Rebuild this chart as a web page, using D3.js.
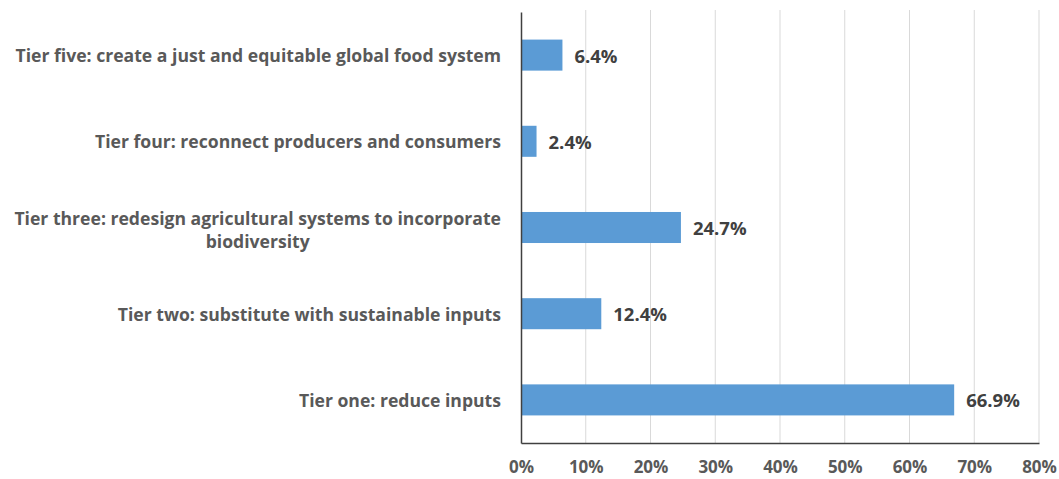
<!DOCTYPE html>
<html>
<head>
<meta charset="utf-8">
<script src="https://cdn.jsdelivr.net/npm/d3@7"></script>
<style>
  html, body { margin: 0; padding: 0; background: #fff; }
  svg { display: block; }
  text { font-family: "Open Sans", "Liberation Sans", sans-serif; }
</style>
</head>
<body>
<svg id="chart" width="1059" height="479"></svg>
<script>
const categories = [
  "Tier five: create a just and equitable global food system",
  "Tier four: reconnect producers and consumers",
  "Tier three: redesign agricultural systems to incorporate|biodiversity",
  "Tier two: substitute with sustainable inputs",
  "Tier one: reduce inputs"
];
const values = [6.4, 2.4, 24.7, 12.4, 66.9];
const tickValues = [0, 10, 20, 30, 40, 50, 60, 70, 80];

const margin = { left: 521, top: 12 };
const svg = d3.select("#chart");

const x = d3.scaleLinear().domain([0, 80]).range([margin.left, 1039]);
const y = d3.scaleBand().domain(categories).range([margin.top, 443])
  .paddingInner(0.64).paddingOuter(0.32);

// gridlines
svg.append("g").selectAll("line").data(tickValues.slice(1)).join("line")
  .attr("x1", d => x(d)).attr("x2", d => x(d))
  .attr("y1", margin.top - 2).attr("y2", 443)
  .attr("stroke", "#d9d9d9").attr("stroke-width", 1);

// bars
svg.append("g").selectAll("rect").data(values).join("rect")
  .attr("x", x(0))
  .attr("y", (d, i) => y(categories[i]))
  .attr("width", d => x(d) - x(0))
  .attr("height", y.bandwidth())
  .attr("fill", "#5b9bd5");

// x axis
const xAxis = d3.axisBottom(x).tickValues(tickValues).tickSize(0).tickPadding(18)
  .tickFormat(d => d + "%");
const gx = svg.append("g").attr("transform", `translate(0,443)`).call(xAxis);
gx.select(".domain").attr("stroke", "#404040").attr("stroke-width", 1.5);
gx.selectAll("text").attr("fill", "#595959").style("font-size", "17px")
  .style("font-weight", "700").style("font-family", '"Open Sans", sans-serif');

// y axis
const yAxis = d3.axisLeft(y).tickSize(0).tickPadding(20).tickFormat("");
const gy = svg.append("g").attr("transform", `translate(${x(0)},0)`).call(yAxis);
gy.select(".domain").attr("stroke", "#404040").attr("stroke-width", 1.5);

// category labels (wrapped on '|', second line centred under first, block right aligned)
const labG = svg.append("g");
const labSize = "17.6px";
categories.forEach((c, i) => {
  const lines = c.split("|");
  const cy = y(c) + y.bandwidth() / 2;
  const t = labG.append("text")
    .attr("fill", "#595959").style("font-size", labSize).style("font-weight", "700")
    .attr("dominant-baseline", "central");
  if (lines.length === 1) {
    t.attr("x", x(0) - 20).attr("y", cy).attr("text-anchor", "end").text(lines[0]);
  } else {
    t.attr("x", x(0) - 20).attr("y", cy - 10).attr("text-anchor", "end").text(lines[0]);
    const w = t.node().getComputedTextLength();
    labG.append("text")
      .attr("fill", "#595959").style("font-size", labSize).style("font-weight", "700")
      .attr("dominant-baseline", "central")
      .attr("x", x(0) - 20 - w / 2).attr("y", cy + 13).attr("text-anchor", "middle")
      .text(lines[1]);
  }
});

// value labels
svg.append("g").selectAll("text").data(values).join("text")
  .attr("x", d => x(d) + 12)
  .attr("y", (d, i) => y(categories[i]) + y.bandwidth() / 2)
  .attr("dominant-baseline", "central")
  .attr("fill", "#404040").style("font-size", "18.5px").style("font-weight", "700")
  .text(d => d.toFixed(1) + "%");
</script>
</body>
</html>
